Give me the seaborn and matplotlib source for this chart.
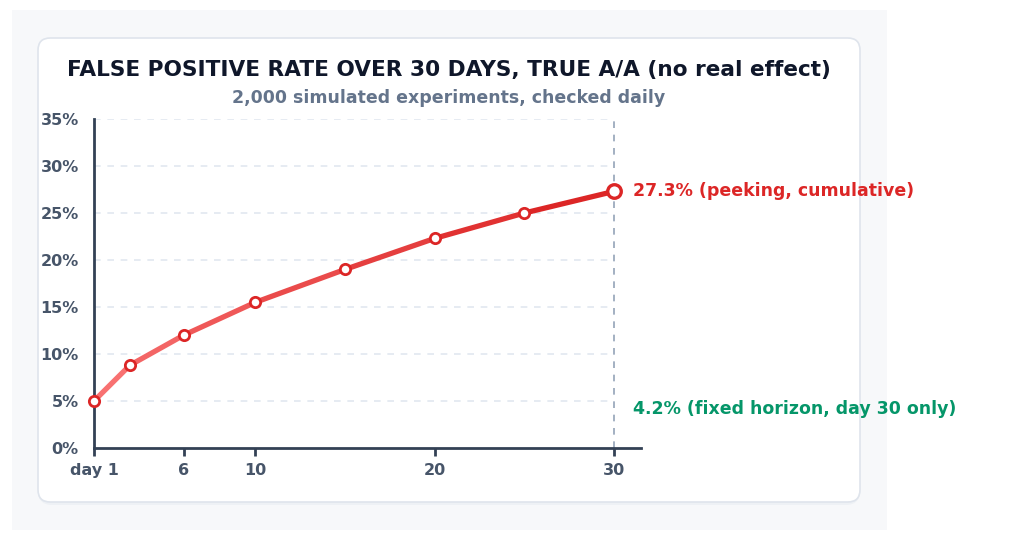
import numpy as np
import seaborn as sns
import matplotlib.pyplot as plt
from matplotlib.collections import LineCollection
from matplotlib.colors import LinearSegmentedColormap
from matplotlib.patches import FancyBboxPatch, Rectangle

# data
days = [1, 3, 6, 10, 15, 20, 25, 30]
fpr_peeking = [5.0, 8.8, 12.0, 15.5, 19.0, 22.3, 25.0, 27.3]
fpr_fixed = 4.2
x_ticks = [1, 6, 10, 20, 30]
x_labels = ['day 1', '6', '10', '20', '30']
y_ticks = [0, 5, 10, 15, 20, 25, 30, 35]

title = 'FALSE POSITIVE RATE OVER 30 DAYS, TRUE A/A (no real effect)'
subtitle = '2,000 simulated experiments, checked daily'

RED = '#dc2626'
GREEN = '#059669'
INK = '#475569'
SPINE = '#334155'

sns.set_theme(style='white')
plt.rcParams['font.family'] = ['DejaVu Sans']

fig = plt.figure(figsize=(10.24, 5.4), dpi=100)
fig.patch.set_facecolor('white')

# outer panel + card (with a faint shadow)
fig.patches.append(Rectangle((12 / 1024, 10 / 540), 875 / 1024, 520 / 540,
                             transform=fig.transFigure, facecolor='#f7f8fa',
                             edgecolor='none', zorder=-4))
fig.patches.append(FancyBboxPatch((38 / 1024, 35 / 540), 822 / 1024, 464 / 540,
                                  boxstyle='round,pad=0,rounding_size=0.014',
                                  transform=fig.transFigure, facecolor='#eef1f5',
                                  edgecolor='none', zorder=-3,
                                  mutation_aspect=1024 / 540))
fig.patches.append(FancyBboxPatch((38 / 1024, 38 / 540), 822 / 1024, 464 / 540,
                                  boxstyle='round,pad=0,rounding_size=0.012',
                                  transform=fig.transFigure, facecolor='white',
                                  edgecolor='#dfe4ec', linewidth=1.2, zorder=-2,
                                  mutation_aspect=1024 / 540))

ax = fig.add_axes([94 / 1024, 1 - 448 / 540, (641 - 94) / 1024, (448 - 119) / 540])
ax.set_facecolor('none')

# gridlines stop at the day-30 marker line
ax.hlines(y_ticks[1:], days[0], days[-1], color='#e2e8f0',
          linestyle=(0, (4, 4)), linewidth=1.2, zorder=0)
ax.axvline(30, color='#94a3b8', linestyle=(0, (4, 4)), linewidth=1.2, zorder=1)

# base line through seaborn (hidden under gradient segments)
sns.lineplot(x=days, y=fpr_peeking, ax=ax, color=RED, linewidth=0, zorder=2)

pts = np.column_stack([days, fpr_peeking])
segs = np.stack([pts[:-1], pts[1:]], axis=1)
cmap = LinearSegmentedColormap.from_list('reds', ['#f87171', RED])
seg_colors = cmap(np.linspace(0, 1, len(segs)))
lc = LineCollection(segs, colors=seg_colors, linewidth=3.8, capstyle='round',
                    joinstyle='round', zorder=3)
ax.add_collection(lc)

sns.scatterplot(x=days[:-1], y=fpr_peeking[:-1], ax=ax, s=55, color='white',
                edgecolor=RED, linewidth=2, zorder=4, legend=False, clip_on=False)
sns.scatterplot(x=days[-1:], y=fpr_peeking[-1:], ax=ax, s=95, color='white',
                edgecolor=RED, linewidth=2.4, zorder=5, legend=False, clip_on=False)

ax.set_xlim(1, 31.5)
ax.set_ylim(0, 35)
ax.set_yticks(y_ticks)
ax.set_yticklabels([f'{v}%' for v in y_ticks])
ax.set_xticks(x_ticks)
ax.set_xticklabels(x_labels)
ax.grid(False)

for s in ['top', 'right']:
    ax.spines[s].set_visible(False)
for s in ['left', 'bottom']:
    ax.spines[s].set_color(SPINE)
    ax.spines[s].set_linewidth(2)

ax.tick_params(axis='x', bottom=True, direction='out', length=6, width=2,
               color=SPINE, pad=5, labelsize=11.5, labelcolor=INK)
ax.tick_params(axis='y', left=False, length=0, pad=11, labelsize=11.5,
               labelcolor=INK)
for lbl in ax.get_xticklabels() + ax.get_yticklabels():
    lbl.set_fontweight('bold')

ax.text(31.05, fpr_peeking[-1], f'{fpr_peeking[-1]}% (peeking, cumulative)',
        color=RED, fontsize=12.5, fontweight='bold', va='center', ha='left',
        clip_on=False)
ax.text(31.05, fpr_fixed, f'{fpr_fixed}% (fixed horizon, day 30 only)',
        color=GREEN, fontsize=12.5, fontweight='bold', va='center', ha='left',
        clip_on=False)

fig.text(449 / 1024, 1 - 70 / 540, title, ha='center', va='center',
         fontsize=15.6, fontweight='bold', color='#0f172a')
fig.text(449 / 1024, 1 - 98 / 540, subtitle, ha='center', va='center',
         fontsize=12.5, fontweight='bold', color='#64748b')

fig.savefig('out.png', dpi=100, facecolor='white')
